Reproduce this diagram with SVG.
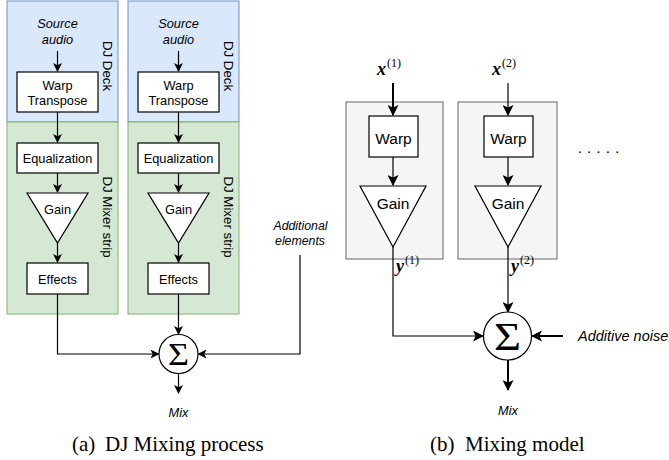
<svg xmlns="http://www.w3.org/2000/svg" width="669" height="460" viewBox="0 0 669 460">
<style>
  .box{fill:#fff;stroke:#000;stroke-width:1.2}
  .deck{fill:#dae8fc;stroke:#6c8ebf;stroke-width:1}
  .strip{fill:#d5e8d4;stroke:#82b366;stroke-width:1}
  .gray{fill:#f5f5f5;stroke:#666;stroke-width:1}
  .t{font-family:"Liberation Sans",Arial,sans-serif;font-size:12.8px;fill:#000;text-anchor:middle}
  .tb{font-family:"Liberation Sans",Arial,sans-serif;font-size:15.5px;fill:#000;text-anchor:middle}
  .it{font-family:"Liberation Sans",Arial,sans-serif;font-size:12.8px;font-style:italic;fill:#000;text-anchor:middle}
  .lab{font-family:"Liberation Sans",Arial,sans-serif;font-size:13.3px;fill:#000;text-anchor:middle}
  .cap{font-family:"Liberation Serif","Times New Roman",serif;font-size:21px;fill:#000}
  .math{font-family:"Liberation Serif","Times New Roman",serif;font-style:italic;font-weight:bold;font-size:18px;fill:#000}
  .sup{font-family:"Liberation Serif","Times New Roman",serif;font-size:12px;fill:#000}
  .sig{font-family:"Liberation Serif","Times New Roman",serif;fill:#000;text-anchor:middle}
  .ln{fill:none;stroke:#000;stroke-width:1.2}
  .lnt{fill:none;stroke:#000;stroke-width:2}
</style>
<defs>
  <marker id="a" markerUnits="userSpaceOnUse" markerWidth="9" markerHeight="9" refX="8" refY="4.5" orient="auto">
    <path d="M0,0 L9,4.5 L0,9 L2.2,4.5 z" fill="#000"/>
  </marker>
  <marker id="ab" markerUnits="userSpaceOnUse" markerWidth="11" markerHeight="11" refX="10" refY="5.5" orient="auto">
    <path d="M0,0 L11,5.5 L0,11 L2.6,5.5 z" fill="#000"/>
  </marker>
</defs>

<!-- (a) panels -->
<g id="deck1"><rect class="deck" x="7" y="1" width="111" height="121"/>
  <text class="lab" transform="translate(108,66) rotate(90)" y="4.6">DJ Deck</text></g>
<g id="strip1"><rect class="strip" x="7" y="122" width="111" height="192"/>
  <text class="lab" transform="translate(108,217) rotate(90)" y="4.6">DJ Mixer strip</text></g>
<g id="deck2"><rect class="deck" x="128" y="1" width="111" height="121"/>
  <text class="lab" transform="translate(229,66) rotate(90)" y="4.6">DJ Deck</text></g>
<g id="strip2"><rect class="strip" x="128" y="122" width="111" height="192"/>
  <text class="lab" transform="translate(229,217) rotate(90)" y="4.6">DJ Mixer strip</text></g>

<!-- (b) panels -->
<g id="chan1"><rect class="gray" x="346" y="102" width="97" height="157"/></g>
<g id="chan2"><rect class="gray" x="458" y="102" width="99" height="157"/></g>

<g id="connectors">
  <path class="ln" d="M57.5,51 V71" marker-end="url(#a)"/>
  <path class="ln" d="M57.5,112 V142" marker-end="url(#a)"/>
  <path class="ln" d="M57.5,173 V192" marker-end="url(#a)"/>
  <path class="ln" d="M57.5,243 V262" marker-end="url(#a)"/>
  <path class="ln" d="M178.5,51 V71" marker-end="url(#a)"/>
  <path class="ln" d="M178.5,112 V142" marker-end="url(#a)"/>
  <path class="ln" d="M178.5,173 V192" marker-end="url(#a)"/>
  <path class="ln" d="M178.5,243 V262" marker-end="url(#a)"/>
  <path class="ln" d="M57.5,294 V354 H158.5" marker-end="url(#a)"/>
  <path class="ln" d="M178.5,294 V334" marker-end="url(#a)"/>
  <path class="ln" d="M300,255 V354 H198.5" marker-end="url(#a)"/>
  <path class="ln" d="M178.5,374 V393" marker-end="url(#a)"/>

  <path class="lnt" d="M393,83 V115" marker-end="url(#ab)"/>
  <path class="ln" d="M393,157 V185" marker-end="url(#ab)"/>
  <path class="ln" d="M393,247 V336 H483" marker-end="url(#ab)"/>
  <path class="ln" d="M508,83 V115" marker-end="url(#ab)"/>
  <path class="ln" d="M508,157 V185" marker-end="url(#ab)"/>
  <path class="ln" d="M508,247 V312" marker-end="url(#ab)"/>
  <path class="lnt" d="M563,336 H532" marker-end="url(#ab)"/>
  <path class="lnt" d="M508,360 V390" marker-end="url(#ab)"/>
</g>

<!-- (a) column 1 -->
<g id="src1"><text class="it" x="57.5" y="27.5">Source</text><text class="it" x="57.5" y="43.5">audio</text></g>
<g id="warp1"><rect class="box" x="17" y="72" width="81" height="40"/>
  <text class="t" x="57.5" y="89.5">Warp</text><text class="t" x="57.5" y="104.5">Transpose</text></g>
<g id="eq1"><rect class="box" x="17" y="143" width="81" height="30"/><text class="t" x="57.5" y="162.5">Equalization</text></g>
<g id="gain1"><path class="box" d="M27,193 H88 L57.5,243 z"/><text class="t" x="57.5" y="213.5">Gain</text></g>
<g id="fx1"><rect class="box" x="27" y="263" width="61" height="31"/><text class="t" x="57.5" y="283.5">Effects</text></g>

<!-- (a) column 2 -->
<g id="src2"><text class="it" x="178.5" y="27.5">Source</text><text class="it" x="178.5" y="43.5">audio</text></g>
<g id="warp2"><rect class="box" x="138" y="72" width="81" height="40"/>
  <text class="t" x="178.5" y="89.5">Warp</text><text class="t" x="178.5" y="104.5">Transpose</text></g>
<g id="eq2"><rect class="box" x="138" y="143" width="81" height="30"/><text class="t" x="178.5" y="162.5">Equalization</text></g>
<g id="gain2"><path class="box" d="M148,193 H209 L178.5,243 z"/><text class="t" x="178.5" y="213.5">Gain</text></g>
<g id="fx2"><rect class="box" x="148" y="263" width="61" height="31"/><text class="t" x="178.5" y="283.5">Effects</text></g>

<g id="add"><text class="it" x="300.5" y="230" style="font-size:12.3px">Additional</text><text class="it" x="300" y="245" style="font-size:12.3px">elements</text></g>
<g id="sum1"><circle class="box" cx="178.5" cy="354" r="19.5"/>
  <text class="sig" x="178.5" y="365" font-size="32" textLength="21" lengthAdjust="spacingAndGlyphs">Σ</text></g>
<g id="mix1"><text class="it" x="178.5" y="416.5">Mix</text></g>
<text class="cap" x="72" y="451">(a)</text>
<text class="cap" x="105" y="451">DJ Mixing process</text>

<!-- (b) -->
<g id="x1"><text class="math" x="377" y="75">x</text><text class="sup" x="387" y="67">(1)</text></g>
<g id="x2"><text class="math" x="492" y="75">x</text><text class="sup" x="502" y="67">(2)</text></g>
<g id="warpb1"><rect class="box" x="369" y="116" width="49" height="41"/><text class="tb" x="393.5" y="143.5">Warp</text></g>
<g id="warpb2"><rect class="box" x="484" y="116" width="49" height="41"/><text class="tb" x="508.5" y="143.5">Warp</text></g>
<g id="gainb1"><path class="box" d="M360,186 H426 L393,247 z"/><text class="tb" x="393" y="208.5">Gain</text></g>
<g id="gainb2"><path class="box" d="M475,186 H541 L508,247 z"/><text class="tb" x="508" y="208.5">Gain</text></g>
<g id="y1"><text class="math" x="396" y="272">y</text><text class="sup" x="405" y="264">(1)</text></g>
<g id="y2"><text class="math" x="511" y="272">y</text><text class="sup" x="520" y="264">(2)</text></g>
<g id="dots"><text class="tb" x="601" y="153" letter-spacing="5">.....</text></g>
<g id="sum2"><circle class="box" cx="507.5" cy="336" r="24"/>
  <text class="sig" x="507.5" y="350" font-size="40" textLength="27" lengthAdjust="spacingAndGlyphs">Σ</text></g>
<g id="noise"><text class="it" x="578" y="341" style="text-anchor:start;font-size:14.5px">Additive noise</text></g>
<g id="mix2"><text class="it" x="508" y="415">Mix</text></g>
<text class="cap" x="430" y="451">(b)</text>
<text class="cap" x="465" y="451">Mixing model</text>
</svg>
